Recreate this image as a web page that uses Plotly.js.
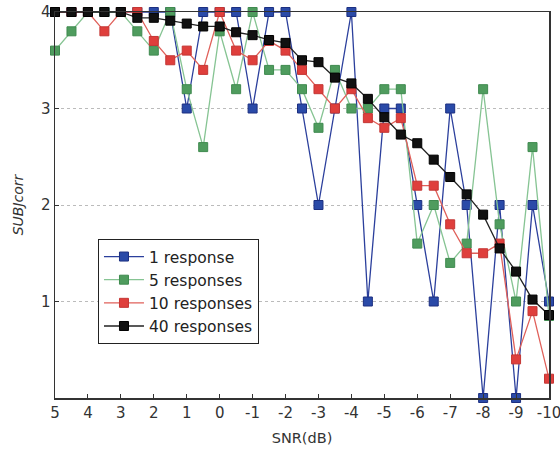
<!DOCTYPE html>
<html>
<head>
<meta charset="utf-8">
<script src="https://cdn.plot.ly/plotly-3.0.1.min.js"></script>
<style>
  html, body { margin: 0; padding: 0; background: #fff; }
  #chart { width: 560px; height: 453px; }
</style>
</head>
<body>
<div id="chart"></div>
<script>
const snr = [5, 4.5, 4, 3.5, 3, 2.5, 2, 1.5, 1, 0.5, 0, -0.5, -1, -1.5, -2, -2.5, -3, -3.5, -4, -4.5, -5, -5.5, -6, -6.5, -7, -7.5, -8, -8.5, -9, -9.5, -10];
const resp1  = [4, 4, 4, 4, 4, 4, 4, 4, 3, 4, 4, 4, 3, 4, 4, 3, 2, 3, 4, 1, 3, 3, 2, 1, 3, 2, 0, 2, 0, 2, 1];
const resp5  = [3.6, 3.8, 4, 4, 4, 3.8, 3.6, 4, 3.2, 2.6, 3.8, 3.2, 4, 3.4, 3.4, 3.2, 2.8, 3.4, 3.0, 3.0, 3.2, 3.2, 1.6, 2.0, 1.4, 1.6, 3.2, 1.8, 1.0, 2.6, 0.85];
const resp10 = [4, 4, 4, 3.8, 4, 4, 3.7, 3.5, 3.6, 3.4, 4, 3.6, 3.5, 3.7, 3.6, 3.4, 3.2, 3.0, 3.2, 2.9, 2.8, 2.9, 2.2, 2.2, 1.8, 1.5, 1.5, 1.6, 0.4, 0.9, 0.2];
const resp40 = [4, 4, 4, 4, 4, 3.94, 3.94, 3.91, 3.88, 3.85, 3.85, 3.79, 3.76, 3.71, 3.68, 3.5, 3.48, 3.32, 3.26, 3.1, 2.91, 2.73, 2.64, 2.47, 2.29, 2.11, 1.9, 1.55, 1.31, 1.02, 0.86];
const names = ['1 response', '5 responses', '10 responses', '40 responses'];
const xTicks = [5, 4, 3, 2, 1, 0, -1, -2, -3, -4, -5, -6, -7, -8, -9, -10];
const yTicks = [1, 2, 3, 4];

const series = [resp1, resp5, resp10, resp40];
const lineColors = ['#2b3f9c', '#86c493', '#e0605a', '#222222'];
const fillColors = ['#2a4aa8', '#4f9c5e', '#df3f3c', '#111111'];
const edgeColors = ['#1c2f80', '#3f8a4f', '#c43634', '#000000'];

const traces = series.map((ys, i) => ({
  x: snr, y: ys, name: names[i], type: 'scatter', mode: 'lines+markers',
  cliponaxis: false,
  line: { color: lineColors[i], width: 1.3 },
  marker: { symbol: 'square', size: 9, color: fillColors[i], line: { color: edgeColors[i], width: 1 } }
}));

const layout = {
  width: 560, height: 453,
  margin: { l: 55, r: 11, t: 12, b: 55 },
  paper_bgcolor: '#fff', plot_bgcolor: '#fff',
  font: { family: 'DejaVu Sans, sans-serif', size: 15, color: '#333' },
  showlegend: true,
  legend: {
    x: 0.087, y: 0.412, xanchor: 'left', yanchor: 'top',
    bgcolor: '#fff', bordercolor: '#222', borderwidth: 1,
    itemwidth: 40,
    font: { family: 'DejaVu Sans, sans-serif', size: 15.5, color: '#222' }, tracegroupgap: 0
  },
  xaxis: {
    range: [5, -10], tickvals: xTicks, ticktext: xTicks.map(String),
    ticklabeloverflow: 'allow',
    ticks: 'inside', ticklen: 4, tickcolor: '#333',
    showline: true, linecolor: '#333', linewidth: 1.5, mirror: true,
    showgrid: false, zeroline: false,
    tickfont: { family: 'DejaVu Sans, sans-serif', size: 15, color: '#333' },
    title: { text: 'SNR(dB)', font: { family: 'DejaVu Sans, sans-serif', size: 14.5, color: '#333' }, standoff: 12 }
  },
  yaxis: {
    range: [0, 4], tickvals: yTicks, ticktext: yTicks.map(String),
    ticks: 'inside', ticklen: 4, tickcolor: '#333',
    showline: true, linecolor: '#333', linewidth: 1.5, mirror: true,
    showgrid: true, gridcolor: '#bbb', griddash: 'dot', gridwidth: 1,
    zeroline: false,
    tickfont: { family: 'DejaVu Sans, sans-serif', size: 15, color: '#333' },
    title: { text: '<i>SUBJcorr</i>', font: { family: 'DejaVu Sans, sans-serif', size: 14, color: '#333' }, standoff: 14 }
  }
};

Plotly.newPlot('chart', traces, layout, { staticPlot: true });
</script>
</body>
</html>
